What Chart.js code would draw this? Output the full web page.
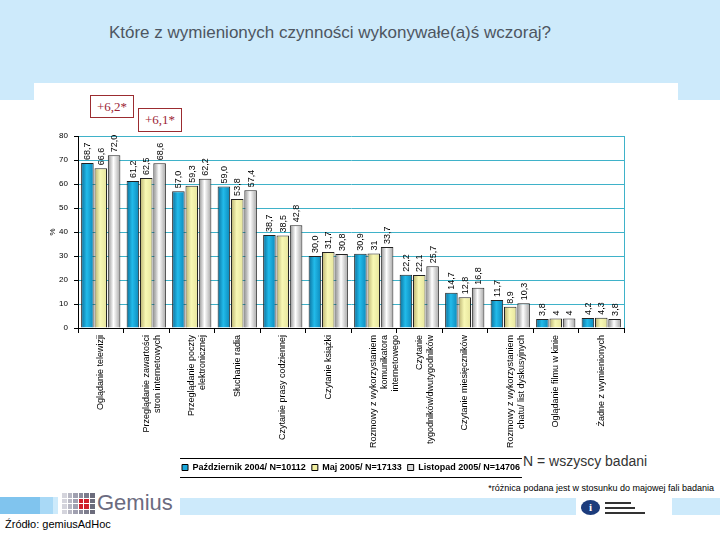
<!DOCTYPE html>
<html><head><meta charset="utf-8">
<script src="https://cdn.jsdelivr.net/npm/chart.js@4.4.0/dist/chart.umd.min.js"></script>
<style>
html,body{margin:0;padding:0;background:#fff;}
body{width:720px;height:540px;position:relative;overflow:hidden;font-family:"Liberation Sans",Arial,sans-serif;}
.abs{position:absolute;}
.box{position:absolute;border:1px solid #9b2c30;color:#9b2335;font-family:"Liberation Serif","Times New Roman",serif;font-size:13px;text-align:center;background:#fff;}
</style></head><body>
<div class="abs" style="left:0;top:0;width:720px;height:100px;background:#cdeafb"></div>
<div class="abs" style="left:34px;top:83px;width:644px;height:414px;background:#fff"></div>
<div class="abs" style="left:0;top:23px;width:660px;text-align:center;font-size:17px;color:#4d5661">Które z wymienionych czynności wykonywałe(a)ś wczoraj?</div>
<div class="box" style="left:90px;top:95px;width:42px;height:21px;line-height:21px">+6,2*</div>
<div class="box" style="left:138px;top:108px;width:42px;height:22px;line-height:22px">+6,1*</div>
<div class="abs" style="left:523px;top:453px;font-size:14px;color:#333">N = wszyscy badani</div>
<div class="abs" style="right:6px;top:483px;font-size:9px;color:#000">*różnica podana jest w stosunku do majowej fali badania</div>
<div class="abs" style="left:0;top:497px;width:40px;height:17px;background:#80c4ee"></div>
<div class="abs" style="left:40px;top:497px;width:13px;height:17px;background:#a9d9f6"></div>
<div class="abs" style="left:53px;top:497px;width:5px;height:17px;background:#cdeafb"></div>
<div class="abs" style="left:180px;top:498px;width:396px;height:17px;background:#cdeafb"></div>
<div class="abs" style="left:672px;top:498px;width:48px;height:17px;background:#cdeafb"></div>
<div class="abs" id="logo" style="left:62px;top:493px;width:34px;height:22px"></div>
<div class="abs" style="left:97px;top:490px;font-size:22px;color:#6b6b80">Gemius</div>
<div class="abs" style="left:581px;top:500px;width:19px;height:15px;border-radius:50%;background:#1c3c7c;color:#fff;font-size:11px;font-weight:bold;text-align:center;line-height:15px;font-family:'Liberation Serif',serif">i</div>
<div class="abs" style="left:605px;top:502px;width:26px;height:2px;background:#333"></div>
<div class="abs" style="left:605px;top:507px;width:30px;height:2px;background:#333"></div>
<div class="abs" style="left:605px;top:512px;width:40px;height:2px;background:#333"></div>
<div class="abs" style="left:5px;top:518px;font-size:11px;color:#000">Źródło: gemiusAdHoc</div>
<canvas id="c" width="720" height="540" class="abs" style="left:0;top:0"></canvas>
<script>
// ---- data ----
const categories = [
  'Oglądanie telewizji',
  ['Przeglądanie zawartości', 'stron internetowych'],
  ['Przeglądanie poczty', 'elektronicznej'],
  'Słuchanie radia',
  'Czytanie prasy codziennej',
  'Czytanie książki',
  ['Rozmowy z wykorzystaniem', 'komunikatora', 'internetowego'],
  ['Czytanie', 'tygodników/dwutygodników'],
  'Czytanie miesięczników',
  ['Rozmowy z wykorzystaniem', 'chatu/ list dyskusyjnych'],
  'Oglądanie filmu w kinie',
  'Żadne z wymienionych'
];
const seriesNames = ['Październik 2004/ N=10112', 'Maj 2005/ N=17133', 'Listopad 2005/ N=14706'];
const octText = ['68,7','61,2','57,0','59,0','38,7','30,0','30,9','22,2','14,7','11,7','3,8','4,2'];
const mayText = ['66,6','62,5','59,3','53,8','38,5','31,7','31','22,1','12,8','8,9','4','4,3'];
const novText = ['72,0','68,6','62,2','57,4','42,8','30,8','33,7','25,7','16,8','10,3','4','3,8'];
const yTicks = [0, 10, 20, 30, 40, 50, 60, 70, 80];

const toNum = a => a.map(s => parseFloat(s.replace(',', '.')));

// decorative logo grid
(function(){
  const logo = document.getElementById('logo');
  for (let r = 0; r < 4; r++) for (let c = 0; c < 6; c++) {
    const d = document.createElement('div');
    d.className = 'abs';
    const red = (c === 3 || c === 4) && (r === 1 || r === 2);
    const shade = ['#d4d4dc','#b8b8c4','#a0a0b0','#8c8c9c','#7c7c8c','#6c6c7c'][c];
    d.style.cssText = `left:${c*5.6}px;top:${r*5.5}px;width:4.5px;height:4.5px;background:${red ? '#d0202c' : shade}`;
    logo.appendChild(d);
  }
})();

const CP = 0.88, BP = 0.94;
function barFill(stops, solid) {
  return function(ctx) {
    const chart = ctx.chart, xs = chart.scales && chart.scales.x;
    if (!xs || ctx.type !== 'data' || !xs.width) return solid;
    const n = chart.data.datasets.length;
    const catW = xs.width / chart.data.labels.length;
    const slot = catW * CP / n;
    const cx = xs.getPixelForValue(ctx.dataIndex) + (ctx.datasetIndex - (n - 1) / 2) * slot;
    const w = slot * BP;
    const g = chart.ctx.createLinearGradient(cx - w / 2, 0, cx + w / 2, 0);
    g.addColorStop(0, stops[0]);
    g.addColorStop(0.45, stops[1]);
    g.addColorStop(1, stops[2]);
    return g;
  };
}
const solids = ['#1aa8dc', '#f2f0a2', '#d8d8d8'];

const valueLabels = {
  id: 'valueLabels',
  afterDatasetsDraw(chart) {
    const ctx = chart.ctx;
    ctx.save();
    ctx.font = '9px "Liberation Sans", Arial, sans-serif';
    ctx.fillStyle = '#000';
    chart.data.datasets.forEach((ds, di) => {
      chart.getDatasetMeta(di).data.forEach((el, i) => {
        ctx.save();
        ctx.translate(el.x + 0.5, el.y - 3);
        ctx.rotate(-Math.PI / 2);
        ctx.textAlign = 'left';
        ctx.textBaseline = 'middle';
        ctx.fillText(ds.valueText[i], 0, 0);
        ctx.restore();
      });
    });
    ctx.restore();
  }
};
const frame = {
  id: 'frame',
  afterDraw(chart) {
    const ctx = chart.ctx, a = chart.chartArea;
    ctx.save();
    ctx.strokeStyle = '#3fb2c9';
    ctx.lineWidth = 1;
    ctx.beginPath();
    ctx.moveTo(Math.round(a.right) + 0.5, a.top);
    ctx.lineTo(Math.round(a.right) + 0.5, a.bottom);
    ctx.stroke();
    const lg = chart.legend;
    if (lg && lg.legendHitBoxes && lg.legendHitBoxes.length) {
      const hb = lg.legendHitBoxes;
      const l = hb[0].left - 2, r = hb[hb.length - 1].left + hb[hb.length - 1].width + 2;
      const c = hb[0].top + hb[0].height / 2;
      ctx.strokeStyle = '#000';
      ctx.beginPath();
      ctx.moveTo(l, Math.round(c - 10) + 0.5); ctx.lineTo(r, Math.round(c - 10) + 0.5);
      ctx.moveTo(l, Math.round(c + 9) + 0.5); ctx.lineTo(r, Math.round(c + 9) + 0.5);
      ctx.stroke();
    }
    ctx.restore();
  }
};

new Chart(document.getElementById('c'), {
  type: 'bar',
  data: {
    labels: categories,
    datasets: [
      { label: seriesNames[0], data: toNum(octText), valueText: octText,
        backgroundColor: barFill(['#0b6e9a', '#22bbea', '#0c88ba'], solids[0]) },
      { label: seriesNames[1], data: toNum(mayText), valueText: mayText,
        backgroundColor: barFill(['#b8b070', '#f8f8b4', '#e6e49c'], solids[1]) },
      { label: seriesNames[2], data: toNum(novText), valueText: novText,
        backgroundColor: barFill(['#8e8e8e', '#ffffff', '#a4a4a4'], solids[2]) }
    ].map(d => Object.assign(d, { borderColor: '#222', borderWidth: 1, categoryPercentage: CP, barPercentage: BP }))
  },
  options: {
    responsive: false,
    animation: false,
    layout: { padding: { left: 48, right: 96, top: 136, bottom: 58 } },
    plugins: {
      tooltip: { enabled: false },
      legend: {
        position: 'bottom',
        fullSize: false,
        labels: {
          boxWidth: 6, boxHeight: 6, padding: 6, color: '#000',
          font: { family: '"Liberation Sans", Arial, sans-serif', size: 9, weight: 'bold' },
          generateLabels: (chart) => chart.data.datasets.map((d, i) => ({
            text: d.label, fillStyle: solids[i], strokeStyle: '#000', lineWidth: 1, datasetIndex: i, hidden: false
          }))
        }
      }
    },
    scales: {
      x: {
        grid: { display: true, drawOnChartArea: false, drawTicks: true, tickLength: 5, color: '#000', offset: true },
        border: { color: '#000' },
        ticks: { minRotation: 90, maxRotation: 90, autoSkip: false, padding: 2, color: '#000',
                 font: { family: '"Liberation Sans", Arial, sans-serif', size: 9 } },
        afterFit(s) { s.height = 129; }
      },
      y: {
        min: 0, max: 80,
        afterBuildTicks(s) { s.ticks = yTicks.map(v => ({ value: v })); },
        ticks: { padding: 6, color: '#000', font: { family: '"Liberation Sans", Arial, sans-serif', size: 8 } },
        grid: { color: '#3fb2c9', tickColor: '#000', tickLength: 4 },
        border: { color: '#000' },
        title: { display: true, text: '%', padding: 0, color: '#000', font: { size: 8 } },
        afterFit(s) { s.width = 30; }
      }
    }
  },
  plugins: [valueLabels, frame]
});
</script>
</body></html>
